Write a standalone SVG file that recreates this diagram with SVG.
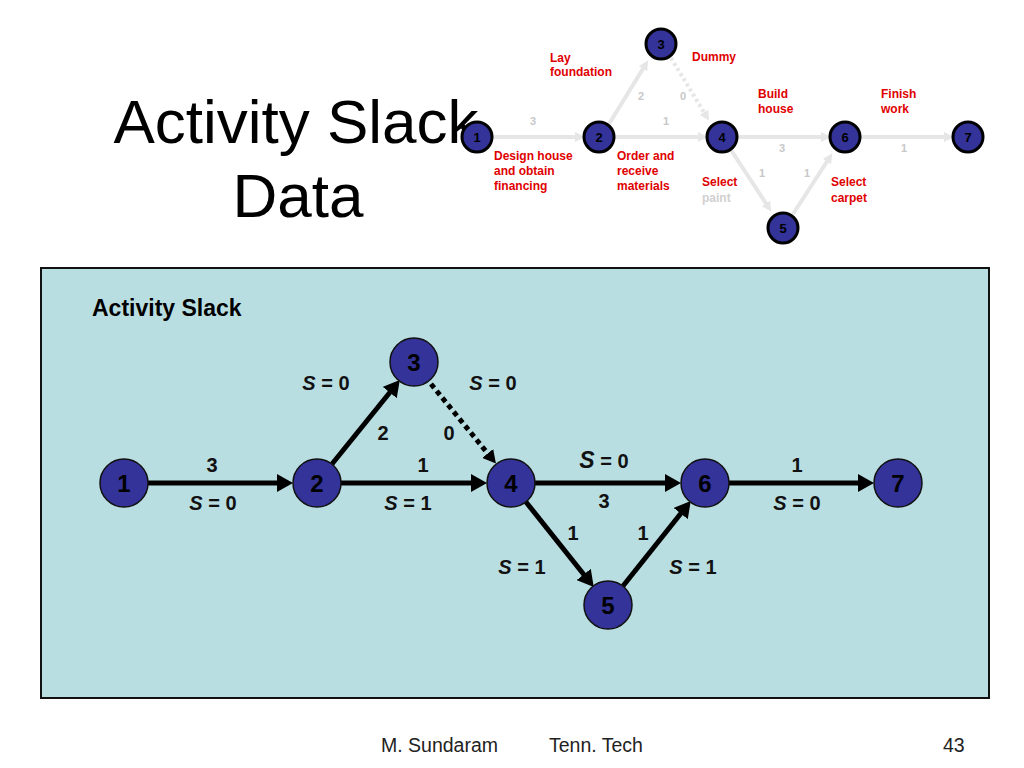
<svg xmlns="http://www.w3.org/2000/svg" width="1024" height="768" viewBox="0 0 1024 768">
<style>
.title{font-family:"Liberation Sans",Arial,sans-serif;font-size:62px;fill:#000;text-anchor:middle}
.foot{font-family:"Liberation Sans",Arial,sans-serif;font-size:19.5px;fill:#222}
.node{fill:#333399;stroke:#111;stroke-width:1.5}
.nlab{font-family:"Liberation Sans",Arial,sans-serif;font-size:24px;font-weight:bold;fill:#000;text-anchor:middle}
.lab{font-family:"Liberation Sans",Arial,sans-serif;font-size:20px;font-weight:bold;fill:#111;text-anchor:middle}
.edge{stroke:#000;stroke-width:5;fill:none}
.snode{fill:#333399;stroke:#000;stroke-width:3}
.snlab{font-family:"Liberation Sans",Arial,sans-serif;font-size:13px;font-weight:bold;fill:#000;text-anchor:middle}
.sedge{stroke:#e6e6e6;stroke-width:4;fill:none}
.snum{font-family:"Liberation Sans",Arial,sans-serif;font-size:11px;font-weight:bold;fill:#c8c8c8;text-anchor:middle}
.red{font-family:"Liberation Sans",Arial,sans-serif;font-size:12px;font-weight:bold;fill:#e00000}
.faint{font-family:"Liberation Sans",Arial,sans-serif;font-size:12px;font-weight:bold;fill:#d0d0d0}
.panelhead{font-family:"Liberation Sans",Arial,sans-serif;font-size:23px;font-weight:bold;fill:#000}
</style>
<defs>
<marker id="arr" markerUnits="userSpaceOnUse" markerWidth="16" markerHeight="18" viewBox="0 0 16 18" refX="2" refY="9" orient="auto">
<path d="M0,0 L16,9 L0,18 z" fill="#000"/>
</marker>
<marker id="arrs" markerUnits="userSpaceOnUse" markerWidth="13" markerHeight="14" viewBox="0 0 13 14" refX="2" refY="7" orient="auto">
<path d="M0,0 L13,7 L0,14 z" fill="#000"/>
</marker>
<marker id="sarr" markerUnits="userSpaceOnUse" markerWidth="10" markerHeight="10" viewBox="0 0 10 10" refX="2" refY="5" orient="auto">
<path d="M0,0 L10,5 L0,10 z" fill="#e6e6e6"/>
</marker>
</defs>
<rect x="0" y="0" width="1024" height="768" fill="#fff"/>

<!-- Slide title -->
<text class="title" x="296" y="143">Activity Slack</text>
<text class="title" x="298" y="217">Data</text>

<!-- Small reference network -->
<g id="small-connectors">
<line class="sedge" x1="493" y1="137" x2="577" y2="137" marker-end="url(#sarr)"/>
<line class="sedge" x1="609" y1="124" x2="644" y2="67" marker-end="url(#sarr)"/>
<line class="sedge" x1="671" y1="58" x2="705" y2="114" stroke-dasharray="3 3" marker-end="url(#sarr)"/>
<line class="sedge" x1="615" y1="137" x2="700" y2="137" marker-end="url(#sarr)"/>
<line class="sedge" x1="738" y1="137" x2="823" y2="137" marker-end="url(#sarr)"/>
<line class="sedge" x1="731" y1="150" x2="767" y2="205" marker-end="url(#sarr)"/>
<line class="sedge" x1="793" y1="214" x2="828" y2="160" marker-end="url(#sarr)"/>
<line class="sedge" x1="861" y1="137" x2="946" y2="137" marker-end="url(#sarr)"/>
<text class="snum" x="533" y="125">3</text>
<text class="snum" x="641" y="100">2</text>
<text class="snum" x="683" y="100">0</text>
<text class="snum" x="666" y="125">1</text>
<text class="snum" x="782" y="152">3</text>
<text class="snum" x="762" y="177">1</text>
<text class="snum" x="807" y="177">1</text>
<text class="snum" x="904" y="152">1</text>
</g>
<g id="small-labels">
<text class="red" x="550" y="62">Lay</text>
<text class="red" x="550" y="76">foundation</text>
<text class="red" x="692" y="61">Dummy</text>
<text class="red" x="494" y="160">Design house</text>
<text class="red" x="494" y="175">and obtain</text>
<text class="red" x="494" y="190">financing</text>
<text class="red" x="617" y="160">Order and</text>
<text class="red" x="617" y="175">receive</text>
<text class="red" x="617" y="190">materials</text>
<text class="red" x="702" y="186">Select</text>
<text class="faint" x="702" y="202">paint</text>
<text class="red" x="758" y="98">Build</text>
<text class="red" x="758" y="113">house</text>
<text class="red" x="881" y="98">Finish</text>
<text class="red" x="881" y="113">work</text>
<text class="red" x="831" y="186">Select</text>
<text class="red" x="831" y="202">carpet</text>
</g>
<g id="s1"><circle class="snode" cx="477" cy="137" r="15"/><text class="snlab" x="477" y="142">1</text></g>
<g id="s2"><circle class="snode" cx="599" cy="137" r="15"/><text class="snlab" x="599" y="142">2</text></g>
<g id="s3"><circle class="snode" cx="661" cy="44" r="15"/><text class="snlab" x="661" y="49">3</text></g>
<g id="s4"><circle class="snode" cx="722" cy="137" r="15"/><text class="snlab" x="722" y="142">4</text></g>
<g id="s5"><circle class="snode" cx="783" cy="228" r="15"/><text class="snlab" x="783" y="233">5</text></g>
<g id="s6"><circle class="snode" cx="845" cy="137" r="15"/><text class="snlab" x="845" y="142">6</text></g>
<g id="s7"><circle class="snode" cx="968" cy="137" r="15"/><text class="snlab" x="968" y="142">7</text></g>

<!-- Panel -->
<rect x="41" y="268" width="948" height="430" fill="#b9dee2" stroke="#111" stroke-width="2"/>
<text class="panelhead" x="92" y="316">Activity Slack</text>

<g id="connectors">
<line class="edge" x1="148" y1="483" x2="279" y2="483" marker-end="url(#arr)"/>
<line class="edge" x1="341" y1="483" x2="473" y2="483" marker-end="url(#arr)"/>
<line class="edge" x1="535" y1="483" x2="667" y2="483" marker-end="url(#arr)"/>
<line class="edge" x1="729" y1="483" x2="860" y2="483" marker-end="url(#arr)"/>
<line class="edge" x1="332" y1="464" x2="391" y2="391" marker-end="url(#arr)"/>
<line class="edge" x1="431" y1="384" x2="489" y2="455" stroke-dasharray="5 4" marker-end="url(#arrs)"/>
<line class="edge" x1="526" y1="502" x2="585" y2="576" marker-end="url(#arr)"/>
<line class="edge" x1="623" y1="586" x2="682" y2="512" marker-end="url(#arr)"/>
</g>

<g id="edge-labels">
<text class="lab" x="212" y="472">3</text>
<text class="lab" x="213" y="510"><tspan font-style="italic">S</tspan> = 0</text>
<text class="lab" x="326" y="390"><tspan font-style="italic">S</tspan> = 0</text>
<text class="lab" x="383" y="440">2</text>
<text class="lab" x="449" y="440">0</text>
<text class="lab" x="493" y="390"><tspan font-style="italic">S</tspan> = 0</text>
<text class="lab" x="423" y="472">1</text>
<text class="lab" x="408" y="510"><tspan font-style="italic">S</tspan> = 1</text>
<text class="lab" x="522" y="574"><tspan font-style="italic">S</tspan> = 1</text>
<text class="lab" x="604" y="468"><tspan font-style="italic" font-size="23">S</tspan> = 0</text>
<text class="lab" x="604" y="508">3</text>
<text class="lab" x="573" y="540">1</text>
<text class="lab" x="643" y="540">1</text>
<text class="lab" x="693" y="574"><tspan font-style="italic">S</tspan> = 1</text>
<text class="lab" x="797" y="472">1</text>
<text class="lab" x="797" y="510"><tspan font-style="italic">S</tspan> = 0</text>
</g>

<g id="n1"><circle class="node" cx="124" cy="483" r="24"/><text class="nlab" x="124" y="492">1</text></g>
<g id="n2"><circle class="node" cx="317" cy="483" r="24"/><text class="nlab" x="317" y="492">2</text></g>
<g id="n3"><circle class="node" cx="414" cy="362" r="24"/><text class="nlab" x="414" y="371">3</text></g>
<g id="n4"><circle class="node" cx="511" cy="483" r="24"/><text class="nlab" x="511" y="492">4</text></g>
<g id="n5"><circle class="node" cx="608" cy="605" r="24"/><text class="nlab" x="608" y="614">5</text></g>
<g id="n6"><circle class="node" cx="705" cy="483" r="24"/><text class="nlab" x="705" y="492">6</text></g>
<g id="n7"><circle class="node" cx="898" cy="483" r="24"/><text class="nlab" x="898" y="492">7</text></g>

<!-- Footer -->
<text class="foot" x="381" y="752">M. Sundaram</text>
<text class="foot" x="549" y="752">Tenn. Tech</text>
<text class="foot" x="943" y="752">43</text>
</svg>
